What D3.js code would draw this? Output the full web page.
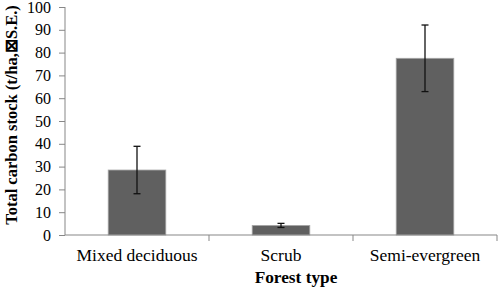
<!DOCTYPE html>
<html>
<head>
<meta charset="utf-8">
<script src="https://cdn.jsdelivr.net/npm/d3@7"></script>
<style>
  body { margin: 0; background: #fff; }
  text { font-family: "Liberation Serif", "Times New Roman", serif; }
</style>
</head>
<body>
<div id="chart"></div>
<script>
// Carbon stock by forest type - bar chart with S.E. error bars
const forestTypes = ["Mixed deciduous", "Scrub", "Semi-evergreen"];
const carbonStock = [28.5, 4.2, 77.5];
const stdErr = [10.4, 0.9, 14.6];
const yTicks = [0, 10, 20, 30, 40, 50, 60, 70, 80, 90, 100];

const width = 500;
const height = 292;
const margin = { top: 7, right: 3, bottom: 57, left: 65 };

const data = forestTypes.map((t, i) => ({ type: t, value: carbonStock[i], se: stdErr[i] }));

const svg = d3.select("#chart").append("svg")
    .attr("width", width)
    .attr("height", height);

const x = d3.scaleBand()
    .domain(forestTypes)
    .range([margin.left, width - margin.right])
    .paddingInner(0.6)
    .paddingOuter(0.3);

const y = d3.scaleLinear()
    .domain([0, 100])
    .range([height - margin.bottom, margin.top]);

const axisColor = "#878787";

// bars
svg.selectAll("rect.bar")
    .data(data)
    .enter()
    .append("rect")
    .attr("class", "bar")
    .attr("x", d => x(d.type))
    .attr("y", d => y(d.value))
    .attr("width", x.bandwidth())
    .attr("height", d => y(0) - y(d.value))
    .attr("fill", "#606060")
    .attr("stroke", "#a6a6a6")
    .attr("stroke-width", 0.8);

// y axis
const yAxis = svg.append("g")
    .attr("transform", `translate(${margin.left},0)`)
    .call(d3.axisLeft(y).tickValues(yTicks).tickSize(6).tickPadding(8));
yAxis.selectAll("path, line").attr("stroke", axisColor);
yAxis.select(".domain").attr("d", `M0,${y(100)}V${y(0)}`);
yAxis.selectAll("text")
    .attr("fill", "#000")
    .style("font-size", "16px")
    .style("font-family", "Liberation Serif, serif");

// x axis: line plus ticks at category boundaries
const xAxis = svg.append("g");
xAxis.append("line")
    .attr("x1", margin.left)
    .attr("x2", width - margin.right)
    .attr("y1", y(0))
    .attr("y2", y(0))
    .attr("stroke", axisColor);

const boundaries = forestTypes.map(t => x(t) + x.bandwidth() + (x.step() - x.bandwidth()) / 2);
xAxis.selectAll("line.tick")
    .data(boundaries)
    .enter()
    .append("line")
    .attr("class", "tick")
    .attr("x1", d => d)
    .attr("x2", d => d)
    .attr("y1", y(0))
    .attr("y2", y(0) + 6)
    .attr("stroke", axisColor);

xAxis.selectAll("text.cat")
    .data(forestTypes)
    .enter()
    .append("text")
    .attr("class", "cat")
    .attr("x", d => x(d) + x.bandwidth() / 2)
    .attr("y", 261)
    .attr("text-anchor", "middle")
    .style("font-size", "17.5px")
    .text(d => d);

// error bars
const err = svg.append("g").attr("stroke", "#111").attr("stroke-width", 1.3);
data.forEach(d => {
    const cx = x(d.type) + x.bandwidth() / 2;
    err.append("line")
        .attr("x1", cx).attr("x2", cx)
        .attr("y1", y(d.value + d.se)).attr("y2", y(d.value - d.se));
    [d.value + d.se, d.value - d.se].forEach(v => {
        err.append("line")
            .attr("x1", cx - 3.5).attr("x2", cx + 3.5)
            .attr("y1", y(v)).attr("y2", y(v));
    });
});

// axis titles
svg.append("text")
    .attr("x", x.range()[0] + (x.range()[1] - x.range()[0]) / 2 + 15)
    .attr("y", 283)
    .attr("text-anchor", "middle")
    .style("font-size", "17.3px")
    .style("font-weight", "bold")
    .text("Forest type");

svg.append("text")
    .attr("transform", "rotate(-90)")
    .attr("x", -115)
    .attr("y", 17)
    .attr("text-anchor", "middle")
    .style("font-size", "16.5px")
    .style("font-weight", "bold")
    .text("Total carbon stock (t/ha,\u22A0S.E.)");
</script>
</body>
</html>
